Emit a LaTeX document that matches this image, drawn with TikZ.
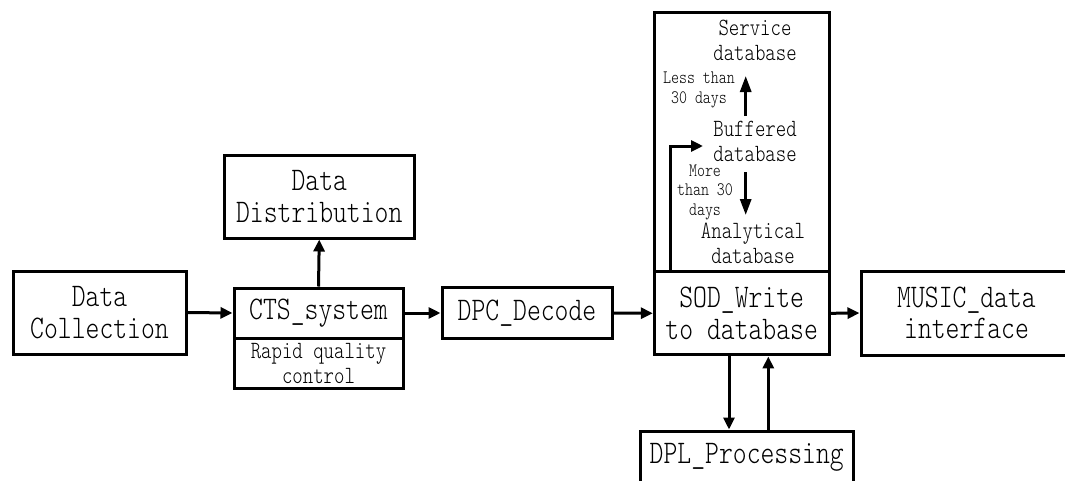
\documentclass[tikz,border=0pt]{standalone}
\usepackage{fontspec}
\setmonofont{Latin Modern Mono Light}[FakeStretch=0.8]
\usetikzlibrary{arrows.meta}

\tikzset{
  block/.style={draw, line width=3pt, inner sep=0pt, align=center},
  big/.style={font=\ttfamily\fontsize{33}{31.5}\selectfont},
  mid/.style={font=\ttfamily\fontsize{24.8}{25}\selectfont},
  small/.style={font=\ttfamily\fontsize{19}{19.5}\selectfont},
  label/.style={inner sep=0pt, align=center},
  flow/.style={line width=3pt, -{Triangle[length=12pt,width=11pt]}},
  tier/.style={line width=3pt, -{Triangle[length=16pt,width=11pt]}},
}

\begin{document}
\begin{tikzpicture}[x=1pt, y=-1pt]
  \useasboundingbox (0,0) rectangle (1065,480);
  \clip (0,0) rectangle (1065,480);

  % main chain
  \node[block, big, minimum width=173pt, minimum height=83pt] (coll) at (99.5,312.5) {Data\\Collection};
  \node[block, big, minimum width=169pt, minimum height=50pt] (cts) at (318.5,313) {CTS\_system};
  \node[block, mid, minimum width=169pt, minimum height=50pt] (rqc) at (318.5,363) {Rapid quality\\control};
  \node[block, big, minimum width=190.5pt, minimum height=83pt] (dist) at (319.25,196.5) {Data\\Distribution};
  \node[block, big, minimum width=170pt, minimum height=51pt] (dpc) at (527,313) {DPC\_Decode};
  \node[block, big, minimum width=174.7pt, minimum height=83.3pt] (sod) at (741.7,313.3) {SOD\_Write\\to database};
  \node[block, big, minimum width=211pt, minimum height=84pt] (music) at (966.5,313) {MUSIC\_data\\interface};
  \node[block, big, minimum width=213.5pt, minimum height=52pt] (dpl) at (746.75,457) {DPL\_Processing};

  % storage tiers above the writer
  \node[block, minimum width=174.7pt, minimum height=259pt] (store) at (741.7,142.2) {};
  \node[label, mid] (serv) at (755,40.5) {Service\\database};
  \node[label, mid] (buff) at (755,141.5) {Buffered\\database};
  \node[label, mid] (anal) at (753,243) {Analytical\\database};
  \node[label, small] (less) at (699,90) {Less than\\30 days};
  \node[label, small] (more) at (705,192) {More\\than 30\\days};

  \coordinate (upfrom) at (745.7,116);
  \coordinate (upto) at (745.7,76);
  \coordinate (dnfrom) at (745.7,172);
  \coordinate (dnto) at (745.7,215);
  \coordinate (feedx) at (670.7,0);
  \coordinate (feedin) at (703,146);
  \coordinate (outx) at (729,0);
  \coordinate (backx) at (768.3,0);

  \draw[tier] (upfrom) -- (upto);
  \draw[tier] (dnfrom) -- (dnto);
  \draw[flow] (sod.north -| feedx) |- (feedin);

  % connectors
  \draw[flow] (coll.east) -- (cts.west);
  \draw[flow] (cts.north) -- (dist.south);
  \draw[flow] (cts.east) -- (dpc.west);
  \draw[flow] (dpc.east) -- (sod.west);
  \draw[flow] (sod.east) -- (music.west);
  \draw[flow] (sod.south -| outx) -- (dpl.north -| outx);
  \draw[flow] (dpl.north -| backx) -- (sod.south -| backx);
\end{tikzpicture}
\end{document}
